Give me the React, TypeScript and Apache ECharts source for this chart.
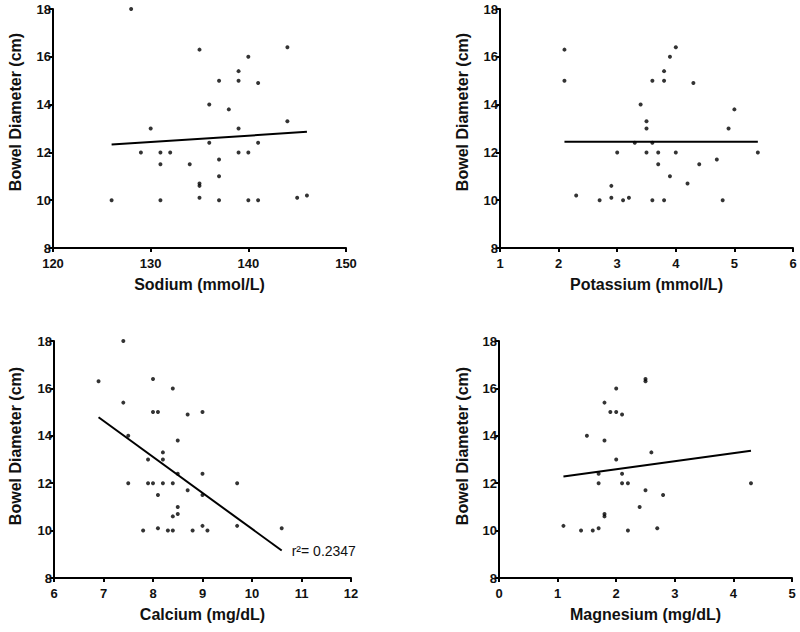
import React, { useEffect, useRef } from "react";
import * as echarts from "echarts";

// Bowel diameter (cm) versus serum electrolytes
const sodium: number[][] = [
  [128, 18], [135, 16.3], [144, 16.4], [140, 16], [139, 15.4], [137, 15], [139, 15], [141, 14.9],
  [136, 14], [138, 13.8], [130, 13], [139, 13], [144, 13.3], [136, 12.4], [141, 12.4], [129, 12],
  [131, 12], [132, 12], [139, 12], [140, 12], [131, 11.5], [134, 11.5], [137, 11.7], [137, 11],
  [135, 10.7], [135, 10.6], [126, 10], [131, 10], [135, 10.1], [137, 10], [140, 10], [141, 10],
  [145, 10.1], [146, 10.2],
];
const potassium: number[][] = [
  [2.1, 16.3], [2.1, 15], [4.0, 16.4], [3.9, 16], [3.8, 15.4], [3.6, 15], [3.8, 15], [4.3, 14.9],
  [3.4, 14], [3.5, 13.3], [3.5, 13], [4.9, 13], [5.0, 13.8], [3.3, 12.4], [3.6, 12.4], [3.0, 12],
  [3.5, 12], [3.7, 12], [4.0, 12], [5.4, 12], [3.7, 11.5], [4.4, 11.5], [4.7, 11.7], [3.9, 11],
  [4.2, 10.7], [2.9, 10.6], [2.3, 10.2], [2.7, 10], [2.9, 10.1], [3.1, 10], [3.2, 10.1], [3.6, 10],
  [3.8, 10], [4.8, 10],
];
const calcium: number[][] = [
  [7.4, 18], [6.9, 16.3], [8.0, 16.4], [8.4, 16], [7.4, 15.4], [8.0, 15], [8.1, 15], [8.7, 14.9],
  [9.0, 15], [7.5, 14], [8.5, 13.8], [8.2, 13.3], [8.2, 13], [7.9, 13], [8.5, 12.4], [9.0, 12.4],
  [7.5, 12], [7.9, 12], [8.0, 12], [8.2, 12], [8.4, 12], [9.7, 12], [8.1, 11.5], [8.7, 11.7],
  [9.0, 11.5], [8.5, 11], [8.5, 10.7], [8.4, 10.6], [7.8, 10], [8.1, 10.1], [8.3, 10], [8.4, 10],
  [8.8, 10], [9.0, 10.2], [9.1, 10], [9.7, 10.2], [10.6, 10.1],
];
const magnesium: number[][] = [
  [2.5, 16.4], [2.5, 16.3], [2.0, 16], [1.8, 15.4], [1.9, 15], [2.0, 15], [2.1, 14.9], [1.5, 14],
  [1.8, 13.8], [2.6, 13.3], [2.0, 13], [1.7, 12.4], [2.1, 12.4], [1.7, 12], [2.1, 12], [2.2, 12],
  [4.3, 12], [2.5, 11.7], [2.8, 11.5], [2.4, 11], [1.8, 10.7], [1.8, 10.6], [1.1, 10.2], [1.4, 10],
  [1.6, 10], [1.7, 10.1], [2.2, 10], [2.7, 10.1],
];

// Regression lines (end points)
const fitSodium: number[][] = [[126, 12.33], [146, 12.86]];
const fitPotassium: number[][] = [[2.1, 12.45], [5.4, 12.45]];
const fitCalcium: number[][] = [[6.9, 14.78], [10.6, 9.16]];
const fitMagnesium: number[][] = [[1.1, 12.28], [4.3, 13.37]];
const calciumR2 = "r²= 0.2347";

const xNames = ["Sodium (mmol/L)", "Potassium (mmol/L)", "Calcium (mg/dL)", "Magnesium (mg/dL)"];
const xRanges = [[120, 150, 10], [1, 6, 1], [6, 12, 1], [0, 5, 1]];
const yName = "Bowel Diameter (cm)";
const yRange = [8, 18, 2];

const FONT = "Arial, 'Liberation Sans', sans-serif";

export default function App() {
  const ref = useRef<HTMLDivElement>(null);
  useEffect(() => {
    if (!ref.current) return;
    const chart = echarts.init(ref.current, undefined, { renderer: "svg" });
    const grids = [
      { left: 53, top: 9, width: 293, height: 239 },
      { left: 500, top: 9, width: 293, height: 239 },
      { left: 54, top: 341, width: 297, height: 237 },
      { left: 499, top: 341, width: 293, height: 237 },
    ];
    const axisCommon = {
      axisLine: { show: true, onZero: false, lineStyle: { color: "#000", width: 2 } },
      axisTick: { show: true, length: 4, lineStyle: { color: "#000", width: 2 } },
      splitLine: { show: false },
    };
    const xAxis = xRanges.map((r, i) => ({
      type: "value",
      gridIndex: i,
      min: r[0],
      max: r[1],
      interval: r[2],
      name: xNames[i],
      nameLocation: "middle",
      nameGap: 28,
      nameTextStyle: { color: "#111", fontFamily: FONT, fontWeight: "bold", fontSize: 16 },
      axisLabel: {
        color: "#111", fontFamily: FONT, fontWeight: "bold", fontSize: 13, margin: 9, lineHeight: 12,
      },
      ...axisCommon,
    }));
    const yAxis = grids.map((_, i) => ({
      type: "value",
      gridIndex: i,
      min: yRange[0],
      max: yRange[1],
      interval: yRange[2],
      axisLabel: {
        color: "#111", fontFamily: FONT, fontWeight: "bold", fontSize: 13, margin: 2, lineHeight: 11,
      },
      ...axisCommon,
    }));
    const scatterSets = [sodium, potassium, calcium, magnesium];
    const fits = [fitSodium, fitPotassium, fitCalcium, fitMagnesium];
    const series: any[] = [];
    scatterSets.forEach((d, i) => {
      series.push({
        type: "scatter",
        xAxisIndex: i,
        yAxisIndex: i,
        data: d,
        symbol: "circle",
        symbolSize: 4,
        itemStyle: { color: "#000" },
      });
      series.push({
        type: "line",
        xAxisIndex: i,
        yAxisIndex: i,
        data: fits[i],
        showSymbol: false,
        symbol: "none",
        lineStyle: { color: "#000", width: 2 },
        endLabel:
          i === 2
            ? {
                show: true,
                formatter: calciumR2,
                distance: 10,
                color: "#111",
                fontFamily: FONT,
                fontSize: 14,
              }
            : { show: false },
      });
    });
    const yNamePos = [
      [15, 112],
      [462, 112],
      [15, 446],
      [462, 446],
    ];
    const graphic = yNamePos.map((p) => ({
      type: "text",
      x: p[0],
      y: p[1],
      rotation: Math.PI / 2,
      style: {
        text: yName,
        font: `bold 16px ${FONT}`,
        fill: "#111",
        textAlign: "center",
        textVerticalAlign: "middle",
      },
    }));
    chart.setOption({
      animation: false,
      backgroundColor: "#fff",
      grid: grids,
      xAxis,
      yAxis,
      series,
      graphic,
    });
    return () => chart.dispose();
  }, []);
  return (
    <div
      ref={ref}
      style={{ position: "absolute", left: 0, top: 0, width: 800, height: 632 }}
    />
  );
}
